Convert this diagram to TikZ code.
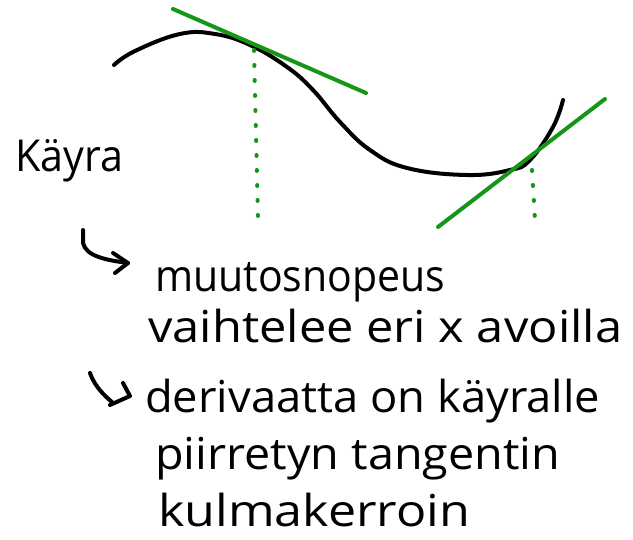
\documentclass[tikz,border=0pt]{standalone}
\usepackage{fontspec}
\usepackage{graphicx}
\setmainfont{Open Sans}
\begin{document}
\begin{tikzpicture}[x=1pt,y=-1pt,
  ink/.style={line width=4pt,line cap=round,line join=round},
  grn/.style={ink,draw=tgreen},
  dots/.style={grn,dash pattern=on 1pt off 14pt},
  txt/.style={anchor=base west,inner sep=0pt,font=\fontsize{44}{48}\selectfont},
  hook/.style={ink}]
\definecolor{tgreen}{RGB}{22,150,22}
\useasboundingbox (0,0) rectangle (633,540);
% curve
\draw[ink] plot[smooth,tension=0.7] coordinates {(114,65) (135,51) (180,34) (215,34) (250,45) (287,67) (313,90) (340,122) (370,150) (407,168) (467,175) (510,170) (530,160) (553,127) (563,100)};
% tangents
\coordinate (t1a) at (173,9); \coordinate (t1b) at (366,93);
\coordinate (t2a) at (438,227); \coordinate (t2b) at (605,99);
\draw[grn] (t1a) -- (t1b);
\draw[grn] (t2a) -- (t2b);
% dotted verticals
\coordinate (d1a) at (254,50); \coordinate (d1b) at (258,218);
\coordinate (d2a) at (532,170); \coordinate (d2b) at (535,220);
\draw[dots] (d1a) -- (d1b);
\draw[dots] (d2a) -- (d2b);
% texts
\node[txt] (kayra) at (15,172) {\resizebox{108pt}{\height}{Käyra}};
\node[txt] (l1) at (155,292) {\resizebox{290pt}{\height}{muutosnopeus}};
\node[txt] (l2) at (148,343) {\resizebox{474pt}{\height}{vaihtelee eri x avoilla}};
\node[txt] (l3) at (145,413) {\resizebox{455pt}{\height}{derivaatta on käyralle}};
\node[txt] (l4) at (155,470) {\resizebox{405pt}{\height}{piirretyn tangentin}};
\node[txt] (l5) at (158,527) {\resizebox{312pt}{\height}{kulmakerroin}};
% arrows
\coordinate (a1s) at (83,230); \coordinate (a1t) at (128,263);
\coordinate (a1u) at (113,253); \coordinate (a1l) at (115,273);
\draw[hook] (a1s) -- (83,243) .. controls (86,256) and (105,260) .. (a1t);
\draw[hook] (a1u) -- (a1t) -- (a1l);
\coordinate (a2s) at (90,373); \coordinate (a2t) at (130,396);
\coordinate (a2u) at (123,383); \coordinate (a2l) at (110,405);
\draw[hook] (a2s) .. controls (96,390) and (110,400) .. (113,403);
\draw[hook] (a2u) -- (a2t) -- (a2l);
\end{tikzpicture}
\end{document}
